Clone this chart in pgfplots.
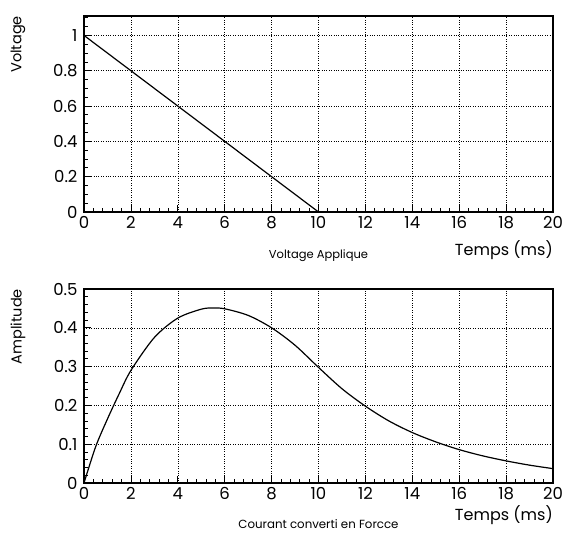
\documentclass[border=0pt]{standalone}
\usepackage{pgfplots}
\pgfplotsset{compat=1.18}
\usepackage{fontspec}
\setmainfont{Poppins}
\begin{document}
\begin{tikzpicture}[x=1pt,y=1pt]
\useasboundingbox (0,0) rectangle (564,532);
\pgfplotsset{
 rootstyle/.style={
  scale only axis, width=469pt, height=195pt,
  anchor=south west, clip=false,
  xmin=0,xmax=20, xtick={0,2,...,20}, minor x tick num=4,
  tick align=inside, xtick pos=bottom, ytick pos=left,
  grid=major, major grid style={black, dotted, line width=0.6pt},
  axis line style={line width=1.3pt},
  major tick length=7pt, minor tick length=4pt,
  every tick/.style={black, line width=0.8pt},
  tick label style={font=\fontsize{16.5}{19}\selectfont},
  /pgf/number format/assume math mode=true,
  xticklabel style={yshift=-1pt},
  yticklabel style={xshift=-3pt},
 }
}
\begin{axis}[rootstyle, at={(84pt,320pt)}, height=196pt,
  ymin=0, ymax=1.11, ytick={0,0.2,...,1}, minor ytick={0.05,0.1,...,1.1}]
\addplot[black, line width=1.2pt] coordinates {(0,1) (10,0)};
\node[rotate=90, anchor=east, inner sep=0pt, font=\fontsize{14.5}{16}\selectfont] at ([xshift=-66pt]rel axis cs:0,1) {Voltage};
\node[anchor=north east, inner sep=0pt, font=\fontsize{16}{18}\selectfont] at ([yshift=-28pt]rel axis cs:1,0) {Temps (ms)};
\node[font=\fontsize{11.5}{13}\selectfont] at ([yshift=-44pt]rel axis cs:0.5,0) {Voltage Applique};
\end{axis}
\begin{axis}[rootstyle, at={(84pt,49pt)}, height=194pt,
  ymin=0, ymax=0.5, ytick={0,0.1,...,0.5}, minor y tick num=4]
\addplot[black, line width=1.2pt, smooth, tension=0.5] coordinates {
(0,0) (0.5,0.094) (1,0.165) (1.5,0.23) (2,0.29) (3,0.375) (4,0.425) (5,0.448)
(5.5,0.451) (6,0.449) (7,0.432) (8,0.40) (9,0.355) (10,0.298) (11,0.243)
(12,0.198) (13,0.16) (14,0.130) (15,0.106) (16,0.086) (17,0.070) (18,0.057)
(19,0.046) (20,0.037)};
\node[rotate=90, anchor=east, inner sep=0pt, font=\fontsize{14.5}{16}\selectfont] at ([xshift=-66pt]rel axis cs:0,1) {Amplitude};
\node[anchor=north east, inner sep=0pt, font=\fontsize{16}{18}\selectfont] at ([yshift=-22pt]rel axis cs:1,0) {Temps (ms)};
\node[font=\fontsize{11.8}{13}\selectfont] at ([yshift=-41pt]rel axis cs:0.5,0) {Courant converti en Forcce};
\end{axis}
\end{tikzpicture}
\end{document}
